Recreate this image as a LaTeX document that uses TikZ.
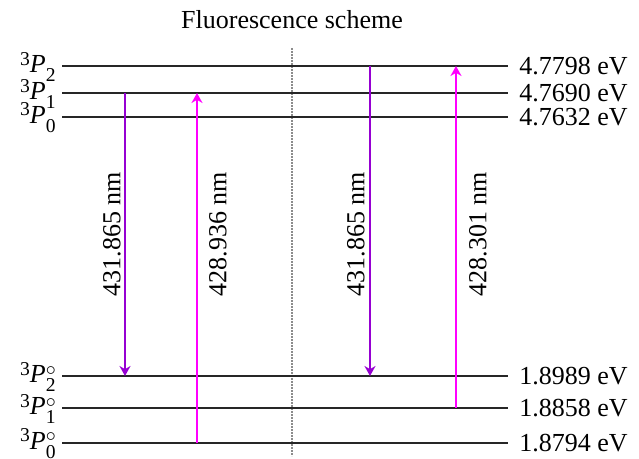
\documentclass[tikz,border=0pt]{standalone}
\usepackage{fontspec}
\setmainfont{LiberationSerif}[Extension=.ttf, UprightFont=*-Regular, ItalicFont=*-Italic, BoldFont=*-Bold]
\usetikzlibrary{arrows.meta,positioning,calc}

\definecolor{emisviolet}{RGB}{150,0,210}
\definecolor{absmagenta}{RGB}{255,0,255}

% small size for the indices of the terms
\newcommand{\idx}{\fontsize{9.8}{10}\selectfont}
\newcommand{\lvl}[2]{\raisebox{0.3em}{\idx 3}\textit{P}\rlap{\raisebox{0.3em}{\idx #2}}\raisebox{-0.35em}{\idx #1}}

\begin{document}
\begin{tikzpicture}[
     % define styles
     x=0.5pt, y=-0.5pt,
     font=\fontsize{13}{15}\selectfont,
     level/.style={
         line width=1.1pt,
         draw=black!85
     },
     term/.style={
         anchor=east,
         inner sep=0pt
     },
     energy/.style={
         anchor=west,
         inner sep=1pt
     },
     emis/.style={
         draw=emisviolet,
         line width=1pt,
         -{Stealth[length=5pt,width=5.5pt,inset=1.6pt]}
     },
     absorb/.style={
         draw=absmagenta,
         line width=1pt,
         -{Stealth[length=5pt,width=5.5pt,inset=1.6pt]}
     },
     wave/.style={
         rotate=90,
         inner sep=0pt
     },
     sep/.style={
         draw=black!45,
         line width=0.8pt,
         dash pattern=on 0.8pt off 0.7pt
     }
]
\useasboundingbox (0,0) rectangle (639,459);

% title
\node (title) at (292,20) {Fluorescence scheme};

% divider between the two schemes
\coordinate (top) at (292,48);
\coordinate (bottom) at (292,456);
\draw[sep] (top) -- (bottom);

% energy levels
\foreach \name/\y in {P2/66, P1/93, P0/117, Q2/376, Q1/408, Q0/443}{
    \coordinate (\name-l) at (62,\y);
    \coordinate (\name-r) at (508,\y);
    \draw[level] (\name-l) -- (\name-r);
}

% term labels
\node[term] (tP2) at ($(P2-l)+(-6,1)$) {\lvl{2}{}};
\node[term] (tP1) at ($(P1-l)+(-6,1)$) {\lvl{1}{}};
\node[term] (tP0) at ($(P0-l)+(-6,1)$) {\lvl{0}{}};
\node[term] (tQ2) at ($(Q2-l)+(-6,1)$) {\lvl{2}{$\circ$}};
\node[term] (tQ1) at ($(Q1-l)+(-6,1)$) {\lvl{1}{$\circ$}};
\node[term] (tQ0) at ($(Q0-l)+(-6,1)$) {\lvl{0}{$\circ$}};

% energies
\node[energy] (eP2) at ($(P2-r)+(9,0)$) {4.7798 eV};
\node[energy] (eP1) at ($(P1-r)+(9,0)$) {4.7690 eV};
\node[energy] (eP0) at ($(P0-r)+(9,0)$) {4.7632 eV};
\node[energy] (eQ2) at ($(Q2-r)+(9,0)$) {1.8989 eV};
\node[energy] (eQ1) at ($(Q1-r)+(9,0)$) {1.8858 eV};
\node[energy] (eQ0) at ($(Q0-r)+(9,0)$) {1.8794 eV};

% transitions, left scheme
\coordinate (xa) at (125,0);
\coordinate (xb) at (197,0);
\draw[emis] (xa |- P1-l) -- (xa |- Q2-l);
\draw[absorb] (xb |- Q0-l) -- (xb |- P1-l);
\node[wave] (wa) at (112,234) {431.865 nm};
\node[wave] (wb) at (218,234) {428.936 nm};

% transitions, right scheme
\coordinate (xc) at (370,0);
\coordinate (xd) at (456,0);
\draw[emis] (xc |- P2-l) -- (xc |- Q2-l);
\draw[absorb] (xd |- Q1-l) -- (xd |- P2-l);
\node[wave] (wc) at (356,234) {431.865 nm};
\node[wave] (wd) at (478,234) {428.301 nm};
\end{tikzpicture}
\end{document}
